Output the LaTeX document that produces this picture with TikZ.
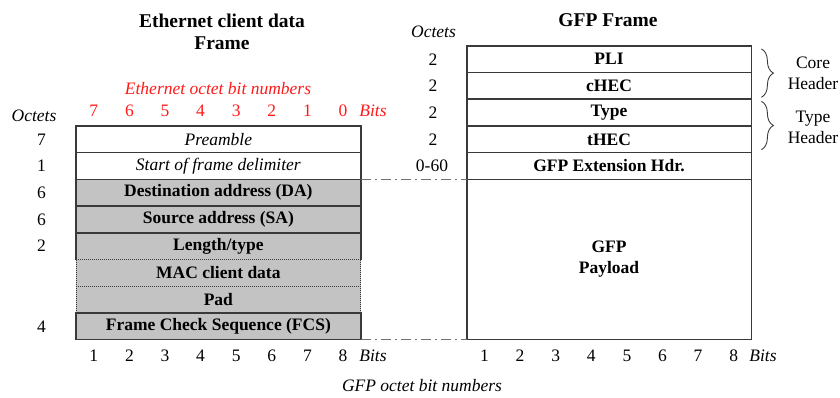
\documentclass[tikz,border=0pt]{standalone}
\usepackage{fontspec}
\setmainfont{Liberation Serif}
\usetikzlibrary{decorations.pathreplacing}
\definecolor{edgegray}{HTML}{3A3A3A}
\definecolor{fieldgray}{HTML}{C3C3C3}
\definecolor{linkgray}{HTML}{707070}
\definecolor{bitred}{HTML}{FF1A1A}
\newcommand\bodysize{\fontsize{17.5}{21}\selectfont}
\newcommand\titlesize{\fontsize{19.5}{22.5}\selectfont}
\tikzset{
  field/.style={minimum width=284.7pt, minimum height=26.7pt, inner sep=0pt,
    outer sep=0pt, font=\bodysize\bfseries},
  solidfield/.style={field, draw=edgegray, line width=1.6pt},
  frame/.style={draw=edgegray, line width=1.6pt},
  dotline/.style={draw=edgegray, line width=1pt, dash pattern=on 1pt off 1pt},
  link/.style={draw=linkgray, line width=1.2pt,
    dash pattern=on 10pt off 4pt on 2pt off 4pt},
  lbl/.style={inner sep=0pt, font=\bodysize},
  ilbl/.style={inner sep=0pt, font=\bodysize\itshape},
  title/.style={inner sep=0pt, align=center, font=\titlesize\bfseries},
  hdrbrace/.style={draw=edgegray, line width=0.9pt,
    decorate, decoration={brace, amplitude=12pt}},
}
\begin{document}
\begin{tikzpicture}[x=1pt, y=-1pt]
\useasboundingbox (0,0) rectangle (840,398);

% titles
\node[title] (ethtitle) at (222,32) {Ethernet client data\\Frame};
\node[title] (gfptitle) at (608,20) {GFP Frame};

% Ethernet client data frame fields
\node[solidfield, fill=white, font=\bodysize\itshape] (pre) at (218.35,139.35) {Preamble};
\node[solidfield, fill=white, font=\bodysize\itshape] (sfd) at (218.35,166.05) {Start of frame delimiter};
\node[solidfield, fill=fieldgray] (da) at (218.35,192.75) {Destination address (DA)};
\node[solidfield, fill=fieldgray] (sa) at (218.35,219.45) {Source address (SA)};
\node[field, fill=fieldgray] (len) at (218.35,246.15) {Length/type};
\node[field, fill=fieldgray] (mac) at (218.35,272.85) {MAC client data};
\node[field, fill=fieldgray] (pad) at (218.35,299.55) {Pad};
\node[solidfield, fill=fieldgray] (fcs) at (218.35,326.25) {Frame Check Sequence (FCS)};

% borders of the variable-length part
\draw[frame] (len.south west) -- (len.north west) -- (len.north east) -- (len.south east);
\draw[dotline] (len.south west) -- (len.south east);
\draw[dotline] (mac.south west) -- (mac.south east);
\draw[dotline] (mac.north west) -- (pad.south west);
\draw[dotline] (mac.north east) -- (pad.south east);

% GFP frame fields
\node[solidfield, fill=white] (pli) at (609.05,59.25) {PLI};
\node[solidfield, fill=white] (chec) at (609.05,85.95) {cHEC};
\node[solidfield, fill=white] (type) at (609.05,112.65) {Type};
\node[solidfield, fill=white] (thec) at (609.05,139.35) {tHEC};
\node[solidfield, fill=white] (ext) at (609.05,166.05) {GFP Extension Hdr.};
\node[solidfield, fill=white, minimum height=160.2pt, align=center,
      font=\bodysize\bfseries] (pay) at (609.05,259.5) {GFP\\Payload};

% mapping of the Ethernet frame onto the payload
\draw[link] (sfd.south east) -- (ext.south west);
\draw[link] (fcs.south east) -- (pay.south west);

% header braces
\draw[hdrbrace] ([xshift=10pt,yshift=-3pt]pli.north east) -- ([xshift=10pt,yshift=2pt]chec.south east);
\draw[hdrbrace] ([xshift=10pt,yshift=-2pt]type.north east) -- ([xshift=10pt,yshift=3pt]thec.south east);
\node[lbl, align=center] (coreh) at (813,73.5) {Core\\Header};
\node[lbl, align=center] (typeh) at (813,127) {Type\\Header};

% octet counts
\node[ilbl] (octl) at (34,116) {Octets};
\node[lbl] (ol1) at (41.5,139.35) {7};
\node[lbl] (ol2) at (41.5,166.05) {1};
\node[lbl] (ol3) at (41.5,192.75) {6};
\node[lbl] (ol4) at (41.5,219.45) {6};
\node[lbl] (ol5) at (41.5,246.15) {2};
\node[lbl] (ol6) at (41.5,326.25) {4};

\node[ilbl] (octr) at (433.5,31.5) {Octets};
\node[lbl] (or1) at (433,59.25) {2};
\node[lbl] (or2) at (433,85.95) {2};
\node[lbl] (or3) at (433,112.65) {2};
\node[lbl] (or4) at (433,139.35) {2};
\node[lbl] (or5) at (432,166.05) {0-60};

% Ethernet octet bit numbers
\node[ilbl, text=bitred] (ethbits) at (218,88.5) {Ethernet octet bit numbers};
\foreach \k in {1,...,8} {
  \pgfmathtruncatemacro\v{8-\k}
  \node[lbl, text=bitred] (eb\k) at (58.2+35.6*\k,110.5) {\v};
}
\node[ilbl, text=bitred] (ebits) at (373,110.5) {Bits};

% GFP octet bit numbers
\foreach \k in {1,...,8} {
  \node[lbl] (gl\k) at (58.2+35.6*\k,355.5) {\k};
  \node[lbl] (gr\k) at (448.9+35.6*\k,355.5) {\k};
}
\node[ilbl] (glbits) at (373,355.5) {Bits};
\node[ilbl] (grbits) at (763,355.5) {Bits};
\node[ilbl] (gfpbits) at (422,386) {GFP octet bit numbers};
\end{tikzpicture}
\end{document}
